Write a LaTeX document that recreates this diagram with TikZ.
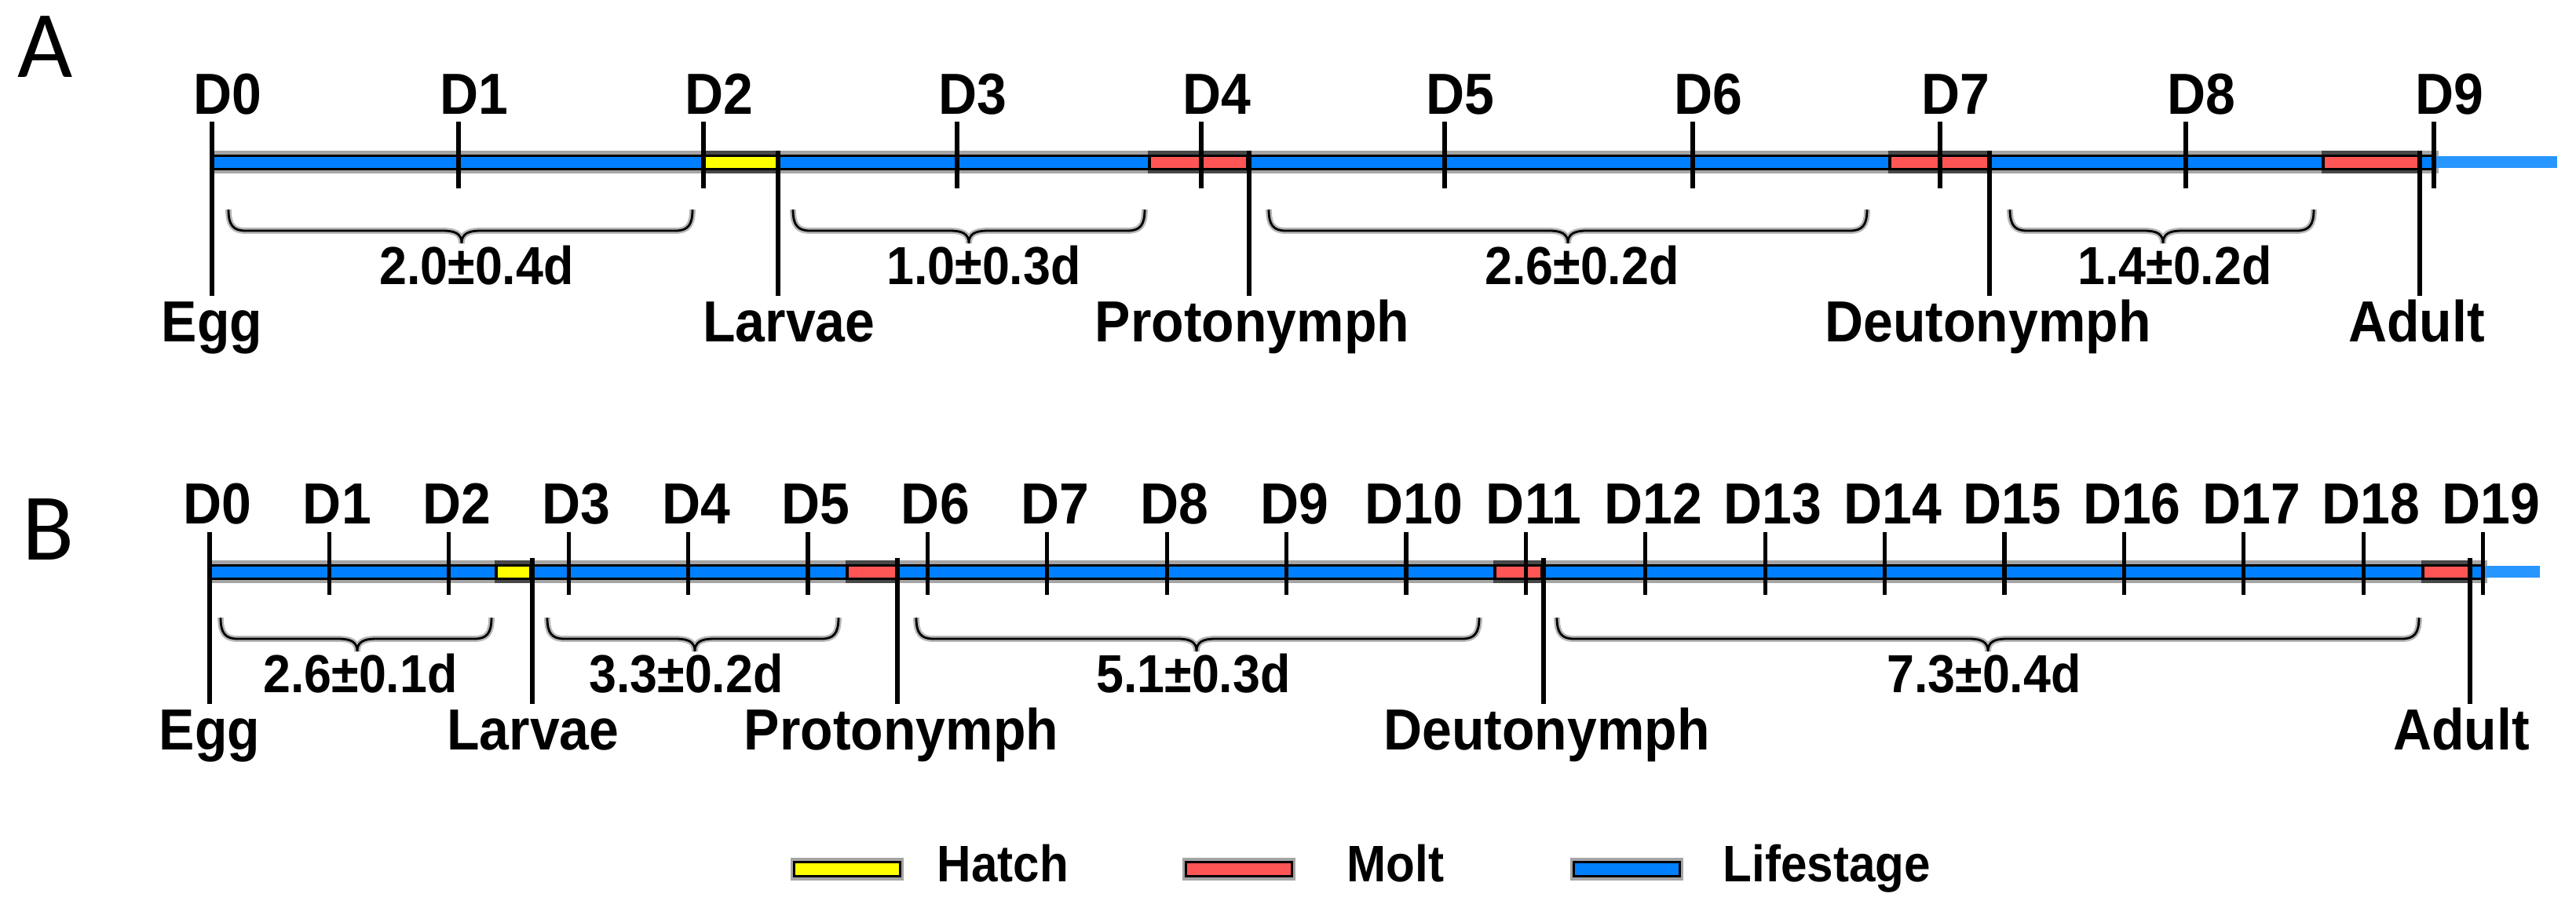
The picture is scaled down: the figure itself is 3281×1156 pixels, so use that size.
\documentclass[tikz,border=0pt]{standalone}
\usepackage{fontspec}
\setmainfont{Liberation Sans}
\newfontfamily\condfont[FakeStretch=0.92]{Liberation Sans}
\newfontfamily\panelfont{Carlito}
\definecolor{lifeblue}{RGB}{0,128,255}
\definecolor{tailblue}{RGB}{40,150,255}
\definecolor{hatchyellow}{RGB}{255,255,0}
\definecolor{moltred}{RGB}{255,85,85}
\definecolor{halogray}{RGB}{165,165,165}
\begin{document}
\begin{tikzpicture}[x=0.01cm,y=-0.01cm,
  dlbl/.style={font=\condfont\bfseries\fontsize{21}{23}\selectfont, anchor=base, inner sep=0},
  slbl/.style={font=\condfont\bfseries\fontsize{21}{23}\selectfont, anchor=base, inner sep=0},
  durlbl/.style={font=\condfont\bfseries\fontsize{19.4}{21}\selectfont, anchor=base, inner sep=0},
  leglbl/.style={font=\condfont\bfseries\fontsize{18.6}{20}\selectfont, anchor=base west, inner sep=0},
  panel/.style={font=\panelfont\fontsize{34.5}{36}\selectfont, anchor=base west, inner sep=0},
  tickline/.style={line width=1.45pt, black},
  stageline/.style={line width=1.45pt, black},
  halo/.style={fill=halogray},
  darkhalo/.style={fill=black!72},
  bracehalo/.style={line width=2.2pt, draw=halogray!80},
  braceline/.style={line width=0.8pt, draw=black},
]
\useasboundingbox[fill=white] (0,0) rectangle (3281,1156);

% brace path helper: x1, x2, mid, ytop
\def\bracepath#1#2#3#4{%
  (#1,#4) .. controls (#1,#4+20) and (#1+6,#4+27) .. (#1+22,#4+27)
  -- (#3-24,#4+27) .. controls (#3-8,#4+27) and (#3,#4+31) .. (#3,#4+43)
  .. controls (#3,#4+31) and (#3+8,#4+27) .. (#3+24,#4+27)
  -- (#2-22,#4+27) .. controls (#2-6,#4+27) and (#2,#4+20) .. (#2,#4)}

% ---------------- Panel A ----------------
\node[panel] (pA) at (22,98) {A};

% bar
\fill[halo] (267,192) rectangle (3106,221);
\fill[darkhalo] (895,192) rectangle (992,221);
\fill[darkhalo] (1462,192) rectangle (1590,221);
\fill[darkhalo] (2405,192) rectangle (2537,221);
\fill[darkhalo] (2957,192) rectangle (3085,221);
\fill[black] (270,197) rectangle (3103,217);
\fill[lifeblue] (272,199.5) rectangle (895,214);
\fill[hatchyellow] (899,199.5) rectangle (988,214);
\fill[lifeblue] (992,199.5) rectangle (1462,214);
\fill[moltred] (1466,199.5) rectangle (1587,214);
\fill[lifeblue] (1592,199.5) rectangle (2405,214);
\fill[moltred] (2409,199.5) rectangle (2532,214);
\fill[lifeblue] (2536,199.5) rectangle (2957,214);
\fill[moltred] (2961,199.5) rectangle (3081,214);
\fill[lifeblue] (3085,199.5) rectangle (3101,214);
\fill[tailblue] (3103,198.5) rectangle (3257,213.5);

% day ticks and labels
\foreach \k/\x in {0/270,1/584,2/896,3/1219,4/1530,5/1840,6/2156,7/2471,8/2784,9/3100}{
  \coordinate (a-t\k) at (\x,155);
  \coordinate (a-b\k) at (\x,240);
  \draw[tickline] (a-t\k) -- (a-b\k);
  \node[dlbl] (a-d\k) at (\x+20,145) {D\k};
}

% stage lines and labels
\coordinate (a-egg-top) at (270,155);
\coordinate (a-egg-bot) at (270,377);
\draw[stageline] (a-egg-top) -- (a-egg-bot);
\foreach \n/\x in {lar/991,pro/1591,deu/2534,adu/3082}{
  \coordinate (a-\n-top) at (\x,192);
  \coordinate (a-\n-bot) at (\x,377);
  \draw[stageline] (a-\n-top) -- (a-\n-bot);
}
\node[slbl] (a-egg) at (270,435) {Egg};
\node[slbl] (a-lar) at (1005,435) {Larvae};
\node[slbl] (a-pro) at (1595,435) {Protonymph};
\node[slbl] (a-deu) at (2532,435) {Deutonymph};
\node[slbl] (a-adu) at (3078,435) {Adult};

% braces
\foreach \xa/\xb/\xm in {291/882/588,1010/1458/1234,1616/2378/1997,2560/2947/2755}{
  \draw[bracehalo] \bracepath{\xa}{\xb}{\xm}{267};
  \draw[braceline] \bracepath{\xa}{\xb}{\xm}{267};
}
\node[durlbl] (a-p1) at (607,362) {2.0±0.4d};
\node[durlbl] (a-p2) at (1253,362) {1.0±0.3d};
\node[durlbl] (a-p3) at (2015,362) {2.6±0.2d};
\node[durlbl] (a-p4) at (2770,362) {1.4±0.2d};

% ---------------- Panel B ----------------
\node[panel] (pB) at (28,713) {B};

\fill[halo] (264,714) rectangle (3168,743);
\fill[darkhalo] (630,714) rectangle (678,743);
\fill[darkhalo] (1077,714) rectangle (1142,743);
\fill[darkhalo] (1902,714) rectangle (1965,743);
\fill[darkhalo] (3084,714) rectangle (3148,743);
\fill[black] (267,719) rectangle (3165,739);
\fill[lifeblue] (269,721.5) rectangle (630,736);
\fill[hatchyellow] (634,721.5) rectangle (674,736);
\fill[lifeblue] (678,721.5) rectangle (1077,736);
\fill[moltred] (1081,721.5) rectangle (1140,736);
\fill[lifeblue] (1144,721.5) rectangle (1902,736);
\fill[moltred] (1906,721.5) rectangle (1962,736);
\fill[lifeblue] (1966,721.5) rectangle (3084,736);
\fill[moltred] (3088,721.5) rectangle (3144,736);
\fill[lifeblue] (3148,721.5) rectangle (3163,736);
\fill[tailblue] (3165,721) rectangle (3235,736);

\foreach \k in {0,...,19}{
  \pgfmathsetmacro\xx{267+152.4*\k}
  \coordinate (b-t\k) at (\xx,678);
  \coordinate (b-b\k) at (\xx,758);
  \draw[tickline] (b-t\k) -- (b-b\k);
  \node[dlbl] (b-d\k) at (\xx+10,667) {D\k};
}

\coordinate (b-egg-top) at (267,678);
\coordinate (b-egg-bot) at (267,897);
\draw[stageline] (b-egg-top) -- (b-egg-bot);
\foreach \n/\x in {lar/678,pro/1143,deu/1966,adu/3146}{
  \coordinate (b-\n-top) at (\x,711);
  \coordinate (b-\n-bot) at (\x,897);
  \draw[stageline] (b-\n-top) -- (b-\n-bot);
}
\node[slbl] (b-egg) at (267,955) {Egg};
\node[slbl] (b-lar) at (679,955) {Larvae};
\node[slbl] (b-pro) at (1148,955) {Protonymph};
\node[slbl] (b-deu) at (1970,955) {Deutonymph};
\node[slbl] (b-adu) at (3135,955) {Adult};

\foreach \xa/\xb/\xm in {281/626/455,697/1068/885,1167/1884/1524,1983/3081/2532}{
  \draw[bracehalo] \bracepath{\xa}{\xb}{\xm}{787};
  \draw[braceline] \bracepath{\xa}{\xb}{\xm}{787};
}
\node[durlbl] (b-p1) at (459,882) {2.6±0.1d};
\node[durlbl] (b-p2) at (874,882) {3.3±0.2d};
\node[durlbl] (b-p3) at (1520,882) {5.1±0.3d};
\node[durlbl] (b-p4) at (2527,882) {7.3±0.4d};

% ---------------- Legend ----------------
\foreach \n/\x/\c in {hat/1010/hatchyellow,mol/1509/moltred,lif/2003/lifeblue}{
  \fill[halo] (\x-3,1093) rectangle (\x+141,1122);
  \fill[black] (\x,1097) rectangle (\x+138,1118);
  \fill[\c] (\x+3,1099.5) rectangle (\x+135,1115);
}
\node[leglbl] (l-hat) at (1193,1123) {Hatch};
\node[leglbl] (l-mol) at (1715,1123) {Molt};
\node[leglbl] (l-lif) at (2194,1123) {Lifestage};
\end{tikzpicture}
\end{document}
